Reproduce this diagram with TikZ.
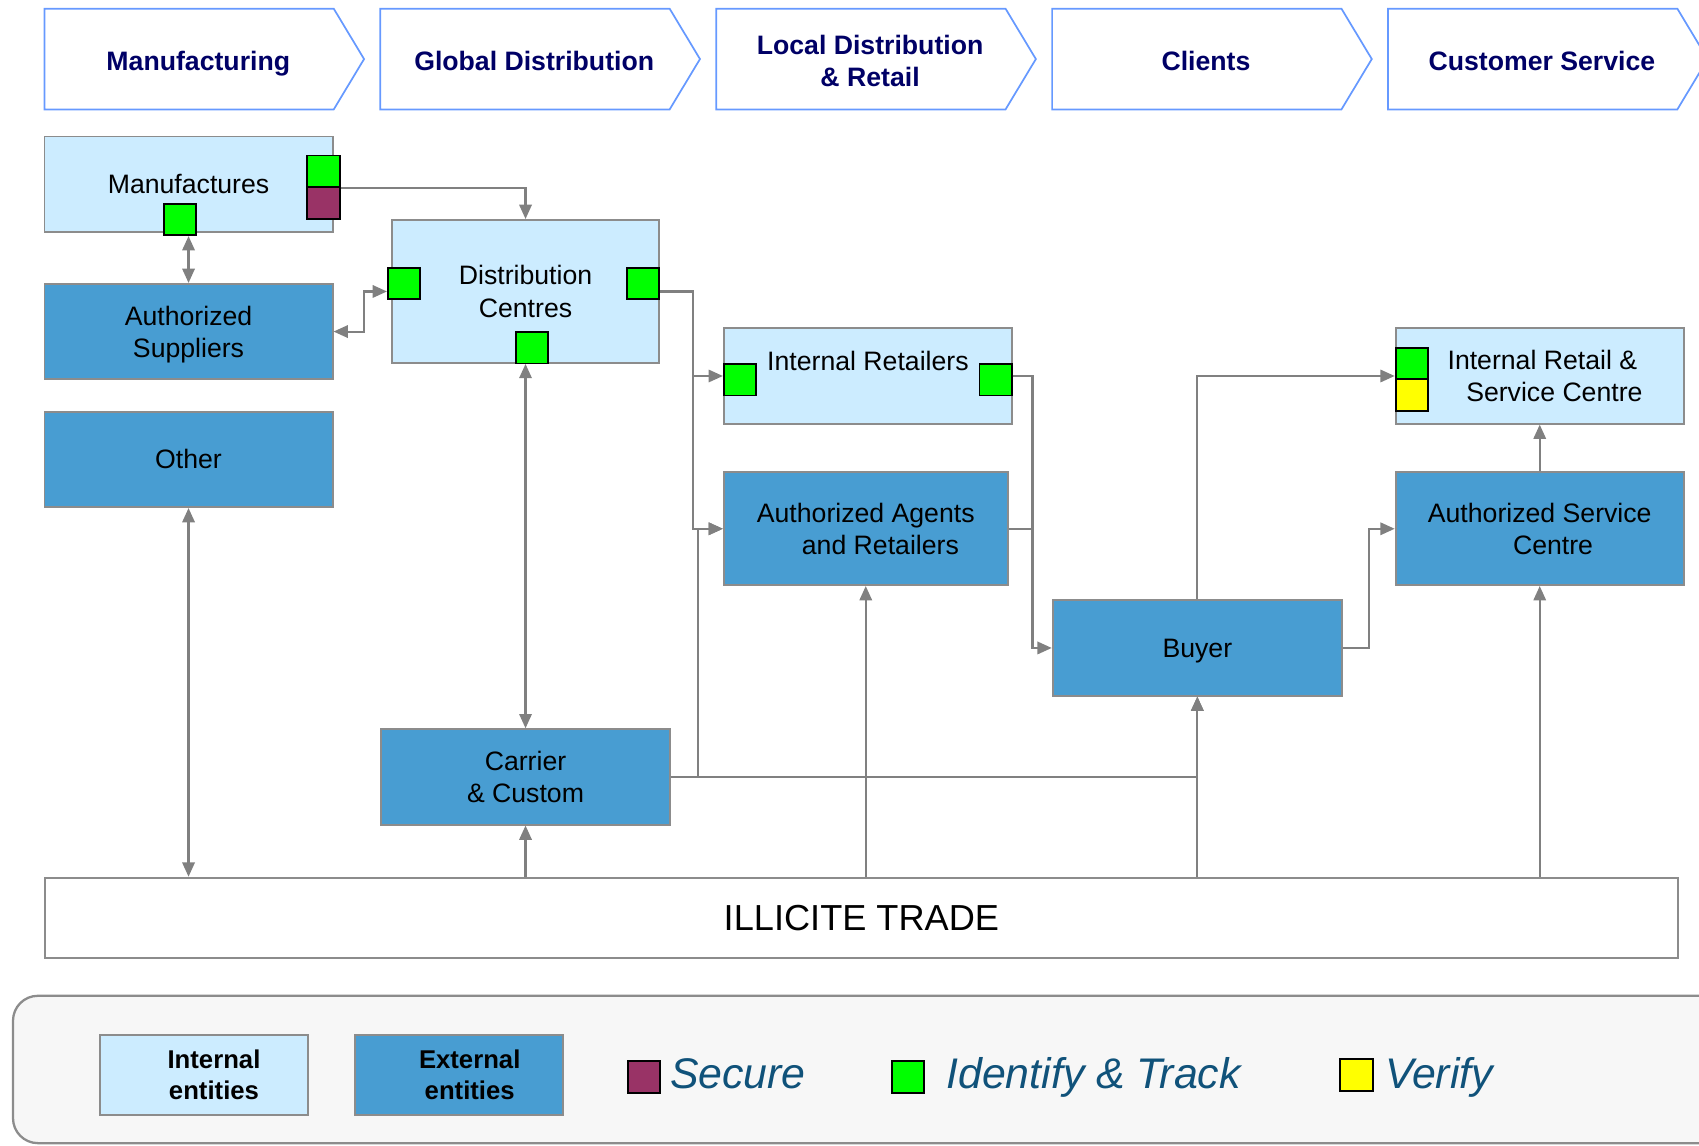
\documentclass[tikz,border=0pt]{standalone}
\usepackage{fontspec}
\setmainfont{Liberation Sans}
\usepackage{tikz}
\usetikzlibrary{positioning,arrows.meta}

\definecolor{intfill}{RGB}{204,236,255}
\definecolor{extfill}{RGB}{72,157,210}
\definecolor{boxgray}{RGB}{140,140,140}
\definecolor{linkgray}{RGB}{128,128,128}
\definecolor{stageblue}{RGB}{102,153,255}
\definecolor{stagenavy}{RGB}{0,0,102}
\definecolor{securec}{RGB}{153,51,102}
\definecolor{trackc}{RGB}{0,255,0}
\definecolor{verifyc}{RGB}{255,255,0}
\definecolor{legendblue}{RGB}{16,82,122}
\definecolor{panelfill}{RGB}{247,247,247}

\tikzset{
  stageframe/.style={draw=stageblue, line width=0.9pt, fill=white},
  stagelabel/.style={font=\fontsize{14}{16.5}\selectfont\bfseries, text=stagenavy, align=center, text depth=0pt},
  intbox/.style={draw=boxgray, line width=1pt, fill=intfill, align=center},
  extbox/.style={draw=boxgray, line width=1pt, fill=extfill, align=center},
  tagbox/.style={draw=black, line width=1pt, minimum width=0.6cm, minimum height=0.58cm, inner sep=0pt},
  link/.style={draw=linkgray, line width=1.1pt, -{Triangle[length=7.5pt,width=6.5pt]}},
  biglink/.style={draw=linkgray, line width=1.1pt, {Triangle[length=7.5pt,width=6.5pt]}-{Triangle[length=7.5pt,width=6.5pt]}},
  legendlabel/.style={font=\fontsize{22.5}{26}\selectfont\itshape, text=legendblue, anchor=base west, inner sep=0pt}
}

\begin{document}
\begin{tikzpicture}[x=0.02cm, y=-0.02cm, every node/.style={font=\fontsize{14}{17}\selectfont}]
  \useasboundingbox (0,0) rectangle (1568,1057);

  %----- value chain stages -----
  \def\stage#1#2#3{ % (left x, name, label)
    \draw[stageframe] (#1,8) -- ++(267,0) -- ++(28,46.5) -- ++(-28,46.5) -- ++(-267,0) -- cycle;
    \node[stagelabel] (#2) at (#1+142,56) {#3};
  }
  \stage{41}{manufacturing}{Manufacturing}
  \stage{351}{globaldist}{Global Distribution}
  \stage{661}{localdist}{Local Distribution\\ \& Retail}
  \stage{971}{clients}{Clients}
  \stage{1281}{custservice}{Customer Service}

  %----- entities -----
  \node[intbox, minimum width=5.32cm, minimum height=1.76cm] (mfg) at (174,170) {Manufactures};
  \node[extbox, minimum width=5.32cm, minimum height=1.76cm, text depth=0pt] (supp) at (174,306) {Authorized\\Suppliers};
  \node[extbox, minimum width=5.32cm, minimum height=1.76cm] (other) at (174,424) {Other};
  \node[intbox, minimum width=4.94cm, minimum height=2.64cm] (dc) at (485,269) {Distribution\\Centres};
  \node[intbox, minimum width=5.32cm, minimum height=1.76cm,
        label={[yshift=0.28cm]center:Internal Retailers}] (ir) at (801,347) {};
  \node[extbox, minimum width=5.24cm, minimum height=2.08cm] (aar) at (799,488) {Authorized Agents\\ \hspace*{1.1em}and Retailers};
  \node[extbox, minimum width=5.32cm, minimum height=1.76cm] (carrier) at (485,717) {Carrier\\\& Custom};
  \node[extbox, minimum width=5.34cm, minimum height=1.76cm, text depth=0pt] (buyer) at (1105,598) {Buyer};
  \node[intbox, minimum width=5.32cm, minimum height=1.76cm] (irsc) at (1421,347) {\hspace*{0.2em}Internal Retail \&\\ \hspace*{1.1em}Service Centre};
  \node[extbox, minimum width=5.32cm, minimum height=2.08cm] (asc) at (1421,488) {Authorized Service\\ \hspace*{1.0em}Centre};
  \node[draw=boxgray, line width=1pt, fill=white, minimum width=30.14cm, minimum height=1.48cm,
        font=\fontsize{19}{23}\selectfont] (illicit) at (795,847) {ILLICITE TRADE};

  %----- security markers -----
  \node[tagbox, fill=trackc] (mfg-id) at (298.5,158) {};
  \node[tagbox, fill=securec] (mfg-sec) at (298.5,187.5) {};
  \node[tagbox, fill=trackc] (mfg-bot) at (166,202.5) {};
  \node[tagbox, fill=trackc] (dc-in) at (373,261.5) {};
  \node[tagbox, fill=trackc] (dc-out) at (593.5,261.5) {};
  \node[tagbox, fill=trackc] (dc-bot) at (491,321) {};
  \node[tagbox, fill=trackc] (ir-in) at (683,350.5) {};
  \node[tagbox, fill=trackc] (ir-out) at (919,350.5) {};
  \node[tagbox, fill=trackc] (irsc-id) at (1303,335.5) {};
  \node[tagbox, fill=verifyc] (irsc-ver) at (1303,364.5) {};

  %----- flows -----
  \draw[link] (mfg-id.south east) -| (dc.north);
  \draw[biglink] (supp.north |- mfg-bot.south) -- (supp.north);
  \draw[biglink] (supp.east) -- ++(28,0) |- (dc-in.west |- dc.center);
  \draw[link] (dc.east) -- ++(30,0) |- (ir.west);
  \draw[link] (dc.east) -- ++(30,0) |- (aar.west);
  \draw[biglink] (dc.south) -- (carrier.north);
  \draw[link] (carrier.east) -| (buyer.south);
  \draw[link] (carrier.east) -- ++(25,0) |- (aar.west);
  \draw[link] (ir.east) -- ++(18,0) |- (buyer.west);
  \draw[draw=linkgray, line width=1.1pt] (aar.east) -- ++(22,0);
  \draw[link] (buyer.north) |- (irsc.west);
  \draw[link] (buyer.east) -- ++(24,0) |- (asc.west);
  \draw[link] (asc.north) -- (irsc.south);

  % from the illicit trade
  \draw[link] (asc.south |- illicit.north) -- (asc.south);
  \draw[link] (buyer.south |- illicit.north) -- (buyer.south);
  \draw[link] (aar.south |- illicit.north) -- (aar.south);
  \draw[link] (carrier.south |- illicit.north) -- (carrier.south);
  \draw[biglink] (other.south) -- (other.south |- illicit.north);

  %----- legend -----
  \draw[draw=boxgray, line width=1.2pt, fill=panelfill, rounded corners=0.46cm] (12,919) rectangle (1600,1055);
  \node[intbox, minimum width=3.84cm, minimum height=1.48cm, font=\fontsize{13.5}{16.5}\selectfont\bfseries] (leg-int) at (188,992) {\hspace*{0.8em}Internal\\ \hspace*{0.8em}entities};
  \node[extbox, minimum width=3.84cm, minimum height=1.48cm, font=\fontsize{13.5}{16.5}\selectfont\bfseries] (leg-ext) at (424,992) {\hspace*{0.8em}External\\ \hspace*{0.8em}entities};
  \node[tagbox, fill=securec] (leg-sec) at (594.5,994) {};
  \node[legendlabel] (leg-sec-txt) at (618,1005) {Secure};
  \node[tagbox, fill=trackc] (leg-id) at (838,994) {};
  \node[legendlabel] (leg-id-txt) at (873,1005) {Identify \& Track};
  \node[tagbox, fill=verifyc] (leg-ver) at (1252,992) {};
  \node[legendlabel] (leg-ver-txt) at (1278,1005) {Verify};
\end{tikzpicture}
\end{document}
